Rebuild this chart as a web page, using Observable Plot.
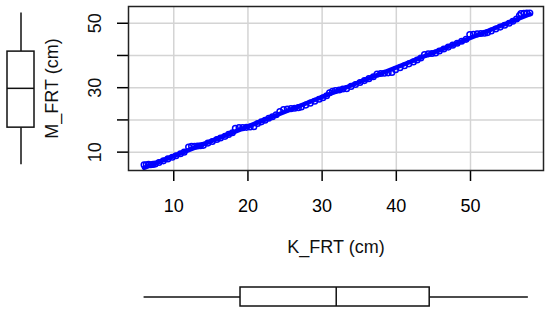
<!DOCTYPE html>
<html><head><meta charset="utf-8">
<script src="https://cdn.jsdelivr.net/npm/d3@7"></script>
<script src="https://cdn.jsdelivr.net/npm/@observablehq/plot@0.6"></script>
<style>
body{margin:0;background:#fff;}
#wrap{position:relative;width:550px;height:311px;font-family:"Liberation Sans",Arial,sans-serif;}
#wrap svg{position:absolute;overflow:visible;}
</style></head><body><div id="wrap"></div>
<script>
// Data
const K_FRT = [6.0,6.3,6.6,6.9,7.2,7.5,8.0,8.6,9.2,9.8,10.3,10.9,11.4,12.0,12.4,12.8,13.2,13.6,14.0,14.6,15.2,15.8,16.3,16.9,17.4,17.9,18.3,18.8,19.3,19.8,20.3,20.8,21.3,21.8,22.3,22.8,23.3,23.8,24.3,24.8,25.3,25.8,26.3,26.8,27.2,27.8,28.4,29.0,29.6,30.1,30.6,31.0,31.4,31.8,32.3,32.8,33.3,33.9,34.5,35.1,35.7,36.3,36.9,37.4,37.9,38.4,38.9,39.4,39.9,40.5,41.1,41.7,42.3,42.8,43.3,43.8,44.3,44.8,45.3,45.8,46.4,47.0,47.6,48.2,48.8,49.4,49.9,50.4,50.9,51.4,51.9,52.3,52.8,53.4,54.0,54.6,55.2,55.7,56.2,56.6,56.8,57.2,57.6,58.0];
const M_FRT = [6.1,6.1,6.2,6.1,6.2,6.3,6.8,7.3,7.9,8.4,8.9,9.5,10.0,11.6,11.8,11.8,11.9,12.0,12.1,12.8,13.3,13.9,14.4,14.9,15.5,16.0,17.4,17.6,17.6,17.7,17.8,17.9,18.9,19.4,19.9,20.5,21.0,21.6,22.6,23.2,23.4,23.5,23.6,23.8,24.0,24.6,25.2,25.8,26.4,26.9,27.5,28.4,28.9,29.1,29.3,29.6,29.7,30.4,31.0,31.6,32.2,32.8,33.4,34.2,34.4,34.5,34.6,34.7,35.6,36.2,36.8,37.4,38.0,38.6,39.2,40.3,40.5,40.6,40.8,41.4,42.0,42.6,43.2,43.8,44.4,45.0,46.5,46.6,46.7,46.8,46.9,47.1,47.6,48.2,48.8,49.4,50.0,50.6,51.3,52.4,53.0,53.1,53.2,53.2];
const xTicks = [10,20,30,40,50];
const yTicks = [10,20,30,40,50];
const yTickLabels = [10,30,50];
// five-number summaries of the side boxplots
const kBox = [{min:6.0, q1:19.0, med:31.9, q3:44.5, max:57.8}];
const mBox = [{min:6.1, q1:17.6, med:29.8, q3:41.2, max:53.2}];
const xTitle = "K_FRT (cm)";
const yTitle = "M_FRT (cm)";

const data = K_FRT.map((k,i)=>({K:k, M:M_FRT[i]}));
const xDomain = [3.9, 59.84];
const yDomain = [4.3, 55.2];
const font = {fontFamily:'"Liberation Sans",Arial,sans-serif', fontSize:"18px", color:"black", background:"transparent", overflow:"visible"};
const wrap = document.getElementById("wrap");

const main = Plot.plot({
  width:550, height:270, marginLeft:128, marginRight:7, marginTop:6, marginBottom:100,
  style:font,
  x:{domain:xDomain}, y:{domain:yDomain},
  marks:[
    Plot.gridX(xTicks,{stroke:"#d4d4d4", strokeOpacity:1, strokeWidth:1.5}),
    Plot.gridY(yTicks,{stroke:"#d4d4d4", strokeOpacity:1, strokeWidth:1.5}),
    Plot.axisX({ticks:xTicks, tickSize:11, tickPadding:18, fontSize:18, label:null, strokeWidth:1.5}),
    Plot.axisY({ticks:yTicks, tickSize:11, tickFormat:()=> "", label:null, strokeWidth:1.5}),
    Plot.text(yTickLabels,{y:d=>d, frameAnchor:"left", textAnchor:"middle", dx:-33, rotate:-90, text:d=>String(d), fontSize:18, fill:"#111"}),
    Plot.text([yTitle],{frameAnchor:"left", textAnchor:"middle", dx:-76, rotate:-90, fontSize:18, fill:"#111"}),
    Plot.text([xTitle],{frameAnchor:"bottom", dy:82, fontSize:18, fill:"#111"}),
    Plot.dot(data,{x:"K", y:"M", r:2.8, stroke:"blue", strokeWidth:1.5}),
    Plot.linearRegressionY(data,{x:"K", y:"M", stroke:"blue", strokeWidth:4.5, ci:0}),
    Plot.frame({stroke:"#222", strokeWidth:1.5})
  ]
});
main.style.left="0px"; main.style.top="0px";
wrap.appendChild(main);

const left = Plot.plot({
  width:41, height:270, marginLeft:7, marginRight:7, marginTop:6, marginBottom:100,
  style:font, x:{domain:[0,1], axis:null}, y:{domain:yDomain, axis:null},
  marks:[
    Plot.ruleX(mBox,{x:0.5, y1:"min", y2:"q1", stroke:"#111", strokeWidth:1.5}),
    Plot.ruleX(mBox,{x:0.5, y1:"q3", y2:"max", stroke:"#111", strokeWidth:1.5}),
    Plot.rect(mBox,{x1:0, x2:1, y1:"q1", y2:"q3", fill:"white", stroke:"#111", strokeWidth:1.5}),
    Plot.ruleY(mBox,{y:"med", x1:0, x2:1, stroke:"#111", strokeWidth:1.5})
  ]
});
left.style.left="0px"; left.style.top="0px";
wrap.appendChild(left);

const bottom = Plot.plot({
  width:550, height:19, marginLeft:128, marginRight:7, marginTop:0, marginBottom:0,
  style:font, x:{domain:xDomain, axis:null}, y:{domain:[0,1], axis:null},
  marks:[
    Plot.ruleY(kBox,{y:0.5, x1:"min", x2:"q1", stroke:"#111", strokeWidth:1.5}),
    Plot.ruleY(kBox,{y:0.5, x1:"q3", x2:"max", stroke:"#111", strokeWidth:1.5}),
    Plot.rect(kBox,{y1:0, y2:1, x1:"q1", x2:"q3", fill:"white", stroke:"#111", strokeWidth:1.5}),
    Plot.ruleX(kBox,{x:"med", y1:0, y2:1, stroke:"#111", strokeWidth:1.5})
  ]
});
bottom.style.left="0px"; bottom.style.top="287px";
wrap.appendChild(bottom);
</script></body></html>
